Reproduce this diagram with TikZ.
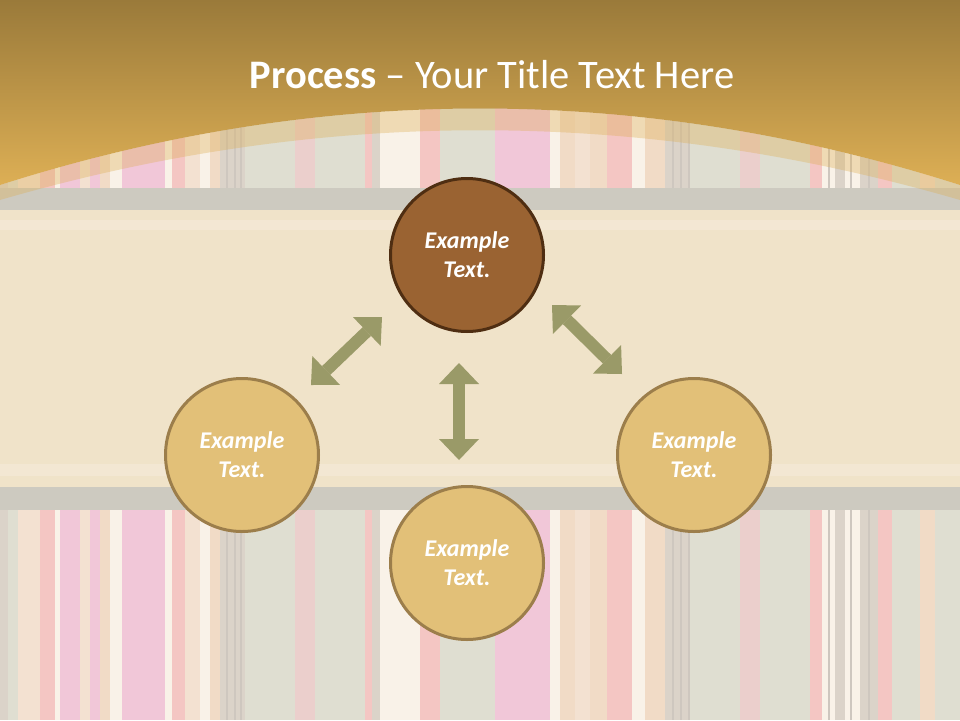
\documentclass[tikz,border=0pt]{standalone}
\usepackage{fontspec}
\setmainfont{Carlito}
\usetikzlibrary{arrows.meta}
\definecolor{sA}{HTML}{F1DAC6}
\definecolor{sB}{HTML}{F2B8B4}
\definecolor{sC}{HTML}{EEB9CF}
\definecolor{sD}{HTML}{F8EFE3}
\definecolor{sE}{HTML}{D8D6C6}
\definecolor{sF}{HTML}{D3C8BC}
\definecolor{sG}{HTML}{EED2B8}
\definecolor{sH}{HTML}{E6C3C0}
\definecolor{goldtop}{HTML}{9A7A3A}
\definecolor{goldbot}{HTML}{DDAF55}
\definecolor{paper}{HTML}{F0E3C9}
\definecolor{bar}{HTML}{CDCAC0}
\definecolor{topfill}{HTML}{9A6332}
\definecolor{topline}{HTML}{4F2E12}
\definecolor{lightfill}{HTML}{E2C078}
\definecolor{lightline}{HTML}{9C7E4B}
\definecolor{arrowc}{HTML}{9A9A68}
\begin{document}
\begin{tikzpicture}[x=1pt,y=-1pt,
  circ/.style={circle, minimum size=153pt, inner sep=0pt, line width=3pt,
    font=\fontsize{24}{29}\selectfont\bfseries\itshape, text=white, align=center},
  topcirc/.style={circ, fill=topfill, draw=topline},
  lightcirc/.style={circ, fill=lightfill, draw=lightline},
  dblarrow/.style={draw=arrowc, line width=12pt,
    {Triangle[width=40pt,length=21pt,line width=0pt]}-{Triangle[width=40pt,length=21pt,line width=0pt]}}
]
\useasboundingbox (0,0) rectangle (960,720);
% background stripes
\foreach \a/\b/\c in {0/8/sF,8/18/sE,18/40/sA,40/55/sB,55/60/sD,60/80/sC,80/90/sA,90/100/sC,100/110/sG,110/122/sD,122/165/sC,165/172/sD,172/185/sB,185/200/sA,200/210/sD,210/220/sG,220/245/sF,245/295/sE,295/315/sH,315/365/sE,365/372/sB,372/380/sF,380/420/sD,420/440/sB,440/495/sE,495/550/sC,550/560/sD,560/575/sG,575/590/sA,590/607/sG,607/632/sB,632/645/sD,645/665/sG,665/690/sF,690/740/sE,740/760/sH,760/810/sE,810/822/sB,822/835/sD,835/845/sF,845/860/sD,860/878/sF,878/892/sB,892/920/sE,920/935/sG,935/960/sE}
  \fill[\c] (\a,0) rectangle (\b,720);
\foreach \x in {226,234,240,672,680,688,828,850,868}
  \fill[sF!80!gray] (\x,0) rectangle (\x+2,720);
\fill[white,opacity=0.2] (0,0) rectangle (960,720);
% paper band and grey bars
\fill[paper] (0,188) rectangle (960,510);
\fill[sD,opacity=0.4] (0,220) rectangle (960,230);
\fill[sD,opacity=0.4] (0,464) rectangle (960,476);
\fill[bar] (0,188) rectangle (960,210);
\fill[bar] (0,487) rectangle (960,510);
% header
\fill[goldbot,opacity=0.35] (0,185) .. controls (320,83) and (640,83) .. (960,185)
  -- (960,200) .. controls (640,107) and (320,107) .. (0,200) -- cycle;
\shade[top color=goldtop, bottom color=goldbot] (0,0) -- (960,0) -- (960,185)
  .. controls (640,83) and (320,83) .. (0,185) -- cycle;
\node[text=white, font=\fontsize{40.5}{44}\selectfont] (title) at (492,75)
  {\textbf{Process} -- Your Title Text Here};
% circles
\node[topcirc] (top) at (467,255) {Example\\Text.};
\node[lightcirc] (left) at (242,455) {Example\\Text.};
\node[lightcirc] (right) at (694,455) {Example\\Text.};
\node[lightcirc] (bottom) at (467,563) {Example\\Text.};
% arrows
\coordinate (l1) at (311,385);
\coordinate (l2) at (382,317);
\coordinate (r1) at (552,305);
\coordinate (r2) at (622,374);
\coordinate (v1) at (459,363);
\coordinate (v2) at (459,460);
\draw[dblarrow] (l1) -- (l2);
\draw[dblarrow] (r1) -- (r2);
\draw[dblarrow] (v1) -- (v2);
\end{tikzpicture}
\end{document}
